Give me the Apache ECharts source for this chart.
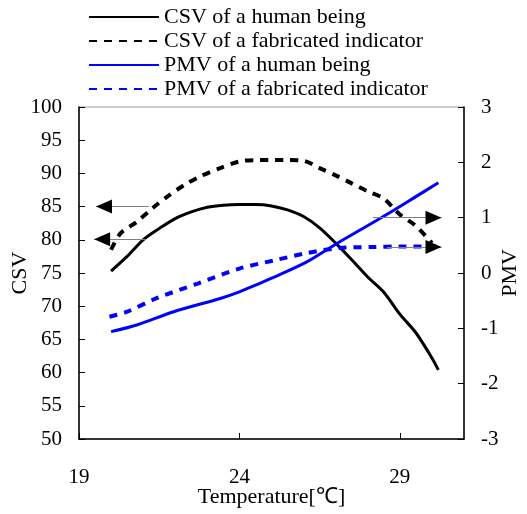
<!DOCTYPE html>
<html style='height: 100%'>
<head>
    <meta charset='utf-8'>
</head>
<body style='height: 100%; margin: 0; background: #fff'>
    <div id='container' style='width: 527px; height: 514px'></div>
    <script src="https://cdn.jsdelivr.net/npm/echarts@6/dist/echarts.min.js"></script>
    <script type="text/javascript">

// CSV of a human being
var csvHumanT = [20, 20.5, 21, 21.5, 22, 22.5, 23, 23.5, 24, 24.5, 25, 25.5, 26, 26.5, 27, 27.5, 28, 28.5, 29, 29.5, 30, 30.2];
var csvHumanV = [75.3, 77.5, 80.0, 81.7, 83.2, 84.2, 84.9, 85.2, 85.3, 85.3, 85.1, 84.5, 83.5, 81.8, 79.5, 77.0, 74.4, 72.1, 68.8, 66.0, 62.2, 60.4];

// CSV of a fabricated indicator
var csvFabT = [20, 20.3, 20.8, 21.3, 21.75, 22.3, 22.8, 23.4, 24, 24.5, 25, 25.5, 26, 26.5, 27, 27.5, 28, 28.5, 29, 29.5, 30];
var csvFabV = [78.5, 81.0, 82.7, 84.8, 86.5, 88.3, 89.6, 90.8, 91.8, 92.0, 92.0, 92.0, 91.9, 90.8, 89.7, 88.5, 87.3, 86.2, 83.8, 82.1, 79.5];

// PMV of a human being
var pmvHumanT = [20, 20.8, 21.95, 23.4, 24, 24.5, 25.1, 26.1, 27, 27.95, 28.8, 29.5, 30.2];
var pmvHumanV = [-1.06, -0.94, -0.70, -0.46, -0.34, -0.22, -0.07, 0.20, 0.52, 0.84, 1.13, 1.38, 1.63];

// PMV of a fabricated indicator
var pmvFabT = [19.95, 20.5, 21.4, 22.7, 24, 25.1, 26.1, 27.1, 28.2, 29, 30.2];
var pmvFabV = [-0.79, -0.70, -0.46, -0.19, 0.08, 0.23, 0.36, 0.45, 0.47, 0.48, 0.48];

// arrows: [from T, to T, value]
var csvArrows = [[21.18, 19.53, 85.0], [21.08, 19.47, 80.1]];
var pmvArrows = [[28.16, 30.3, 1.0], [28.6, 30.3, 0.47]];

var names = ['CSV of a human being', 'CSV of a fabricated indicator', 'PMV of a human being', 'PMV of a fabricated indicator'];

function pairs(xs, ys) {
    return xs.map(function (x, i) { return [x, ys[i]]; });
}

var font = 'Liberation Serif, Times New Roman, serif';

function arrowLines(list) {
    return {
        silent: true, symbol: ['none', 'none'], animation: false,
        lineStyle: { color: '#808080', width: 1, type: 'solid' },
        label: { show: false },
        data: list.map(function (a) {
            return [{ coord: [a[0], a[2]] }, { coord: [a[1], a[2]] }];
        })
    };
}

function arrowHeads(list) {
    return {
        silent: true, animation: false,
        label: { show: false },
        itemStyle: { color: '#000' },
        data: list.map(function (a) {
            var left = a[1] < a[0];
            return {
                coord: [left ? a[1] + 0.25 : a[1] - 0.25, a[2]],
                symbol: 'triangle',
                symbolSize: [14, 16],
                symbolRotate: left ? 90 : -90
            };
        })
    };
}

var dom = document.getElementById("container");
var myChart = echarts.init(dom);

var option = {
    animation: false,
    backgroundColor: '#fff',
    legend: {
        orient: 'vertical',
        left: 83,
        top: 1,
        itemWidth: 70,
        itemHeight: 14,
        itemGap: 2,
        data: names,
        itemStyle: { opacity: 0 },
        textStyle: { fontFamily: font, fontSize: 22, color: '#000', lineHeight: 22 }
    },
    grid: {
        left: 79, right: 63, top: 107, bottom: 75,
        outerBoundsMode: 'none', containLabel: false,
        show: true, borderColor: '#999', borderWidth: 1
    },
    xAxis: {
        type: 'value', min: 19, max: 31, interval: 5,
        name: 'Temperature[℃]', nameLocation: 'middle', nameGap: 47, nameMoveOverlap: false,
        nameTextStyle: { fontFamily: font, fontSize: 22, color: '#000' },
        axisLine: { onZero: false, lineStyle: { color: '#000', width: 1.5 } },
        axisTick: { inside: true, length: 6, lineStyle: { color: '#000' } },
        axisLabel: { fontFamily: font, fontSize: 21, color: '#000', margin: 28, showMaxLabel: false },
        splitLine: { show: false }
    },
    yAxis: [{
        type: 'value', min: 50, max: 100, interval: 5,
        name: 'CSV', nameLocation: 'middle', nameGap: 48, nameMoveOverlap: false,
        nameTextStyle: { fontFamily: font, fontSize: 22, color: '#000' },
        axisLine: { show: true, onZero: false, lineStyle: { color: '#000', width: 1.5 } },
        axisTick: { inside: true, length: 6, lineStyle: { color: '#000' } },
        axisLabel: { fontFamily: font, fontSize: 21, color: '#000', margin: 17 },
        splitLine: { show: false }
    }, {
        type: 'value', min: -3, max: 3, interval: 1, position: 'right',
        name: 'PMV', nameLocation: 'middle', nameGap: 35, nameRotate: 90, nameMoveOverlap: false,
        nameTextStyle: { fontFamily: font, fontSize: 22, color: '#000' },
        axisLine: { show: true, onZero: false, lineStyle: { color: '#000', width: 1.5 } },
        axisTick: { inside: true, length: 6, lineStyle: { color: '#000' } },
        axisLabel: { fontFamily: font, fontSize: 21, color: '#000', margin: 17 },
        splitLine: { show: false }
    }],
    series: [{
        name: names[0], type: 'line', yAxisIndex: 0, symbol: 'none', smooth: 0.3,
        data: pairs(csvHumanT, csvHumanV),
        lineStyle: { color: '#000', width: 3 }, itemStyle: { color: '#000' },
        markLine: arrowLines(csvArrows),
        markPoint: arrowHeads(csvArrows)
    }, {
        name: names[1], type: 'line', yAxisIndex: 0, symbol: 'none', smooth: 0.3,
        data: pairs(csvFabT, csvFabV),
        lineStyle: { color: '#000', width: 4, type: [8, 7] }, itemStyle: { color: '#000' }
    }, {
        name: names[2], type: 'line', yAxisIndex: 1, symbol: 'none', smooth: 0.3,
        data: pairs(pmvHumanT, pmvHumanV),
        lineStyle: { color: '#0000ff', width: 3 }, itemStyle: { color: '#0000ff' },
        markLine: arrowLines(pmvArrows),
        markPoint: arrowHeads(pmvArrows)
    }, {
        name: names[3], type: 'line', yAxisIndex: 1, symbol: 'none', smooth: 0.3,
        data: pairs(pmvFabT, pmvFabV),
        lineStyle: { color: '#0000ff', width: 4, type: [8, 7] }, itemStyle: { color: '#0000ff' }
    }]
};

myChart.setOption(option);
    </script>
</body>
</html>
